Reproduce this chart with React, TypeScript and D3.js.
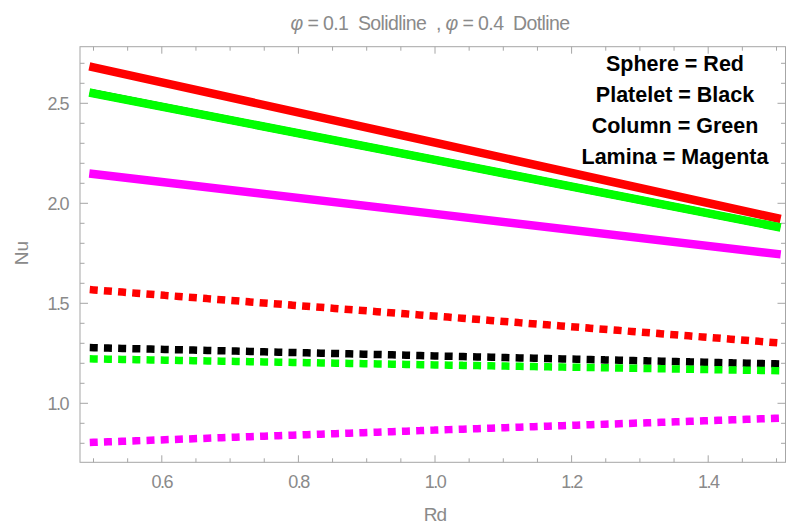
import React from "react";
import * as d3 from "d3";

const rd = [0.5, 1.0, 1.5];
const sphereSolid = [2.68, 2.303, 1.926];
const plateletSolid = [2.55, 2.217, 1.883];
const columnSolid = [2.55, 2.217, 1.883];
const laminaSolid = [2.147, 1.947, 1.747];
const sphereDot = [1.567, 1.436, 1.303];
const plateletDot = [1.278, 1.237, 1.197];
const columnDot = [1.222, 1.192, 1.163];
const laminaDot = [0.805, 0.866, 0.925];

const xMajor = [0.6, 0.8, 1.0, 1.2, 1.4];
const yMajor = [1.0, 1.5, 2.0, 2.5];
const legendLines = ["Sphere = Red", "Platelet = Black", "Column = Green", "Lamina = Magenta"];

const W = 786, H = 525;
const frameL = 80, frameR = 785.5, frameT = 46.7, frameB = 462.3;

export default function App() {
  const x = d3.scaleLinear().domain([0.5, 1.5]).range([93.5, 776.5]);
  const y = d3.scaleLinear().domain([1.0, 2.0]).range([403.3, 203.3]);
  const xDom = [x.invert(frameL), x.invert(frameR)];
  const yDom = [y.invert(frameB), y.invert(frameT)];

  const line = d3.line<[number, number]>().x((d) => x(d[0])).y((d) => y(d[1]));
  const mk = (vals: number[]) => line(rd.map((r, i) => [r, vals[i]] as [number, number])) || "";

  const xMinor = d3.range(Math.ceil(xDom[0] / 0.05), Math.floor(xDom[1] / 0.05) + 1).map((k) => +(k * 0.05).toFixed(3));
  const yMinor = d3.range(Math.ceil(yDom[0] / 0.1), Math.floor(yDom[1] / 0.1) + 1).map((k) => +(k * 0.1).toFixed(3));
  const isMajX = (v: number) => xMajor.some((m) => Math.abs(m - v) < 1e-6);
  const isMajY = (v: number) => yMajor.some((m) => Math.abs(m - v) < 1e-6);

  const frameColor = "#a6a6a6";
  const labelColor = "#8a8a8a";
  const font = "'Liberation Sans', Arial, sans-serif";

  const solid = [
    { v: plateletSolid, c: "#000000", w: 7.5 },
    { v: sphereSolid, c: "#ff0000", w: 8.5 },
    { v: columnSolid, c: "#00ff00", w: 8.5 },
    { v: laminaSolid, c: "#ff00ff", w: 8.5 },
  ];
  const dotted = [
    { v: sphereDot, c: "#ff0000" },
    { v: plateletDot, c: "#000000" },
    { v: columnDot, c: "#00ff00" },
    { v: laminaDot, c: "#ff00ff" },
  ];

  return (
    <svg width={W} height={H} style={{ position: "absolute", left: 0, top: 0, background: "#fff" }}>
      <rect x={0} y={0} width={W} height={H} fill="#fff" />
      {/* title */}
      <text x={430} y={30} textAnchor="middle" fill={labelColor} fontFamily={font} fontSize={19.5} letterSpacing={-0.6} style={{ whiteSpace: "pre" }}>
        <tspan fontStyle="italic">φ</tspan>
        <tspan>{" = 0.1  Solidline  , "}</tspan>
        <tspan fontStyle="italic">φ</tspan>
        <tspan>{" = 0.4  Dotline"}</tspan>
      </text>
      {/* frame */}
      <rect x={frameL} y={frameT} width={frameR - frameL} height={frameB - frameT} fill="none" stroke={frameColor} strokeWidth={1} />
      {/* ticks */}
      {xMinor.map((v) => {
        const len = isMajX(v) ? 7 : 4;
        return (
          <g key={"xt" + v}>
            <line x1={x(v)} x2={x(v)} y1={frameB} y2={frameB - len} stroke={frameColor} />
            <line x1={x(v)} x2={x(v)} y1={frameT} y2={frameT + len} stroke={frameColor} />
          </g>
        );
      })}
      {yMinor.map((v) => {
        const len = isMajY(v) ? 8 : 4.5;
        return (
          <g key={"yt" + v}>
            <line x1={frameL} x2={frameL + len} y1={y(v)} y2={y(v)} stroke={frameColor} />
            <line x1={frameR} x2={frameR - len} y1={y(v)} y2={y(v)} stroke={frameColor} />
          </g>
        );
      })}
      {xMajor.map((v) => (
        <text key={"xl" + v} x={x(v)} y={488} textAnchor="middle" fill={labelColor} fontFamily={font} fontSize={18} letterSpacing={-1.5}>
          {d3.format(".1f")(v)}
        </text>
      ))}
      {yMajor.map((v) => (
        <text key={"yl" + v} x={68} y={y(v) + 6.5} textAnchor="end" fill={labelColor} fontFamily={font} fontSize={18} letterSpacing={-1.5}>
          {d3.format(".1f")(v)}
        </text>
      ))}
      <text x={435} y={521} textAnchor="middle" fill={labelColor} fontFamily={font} fontSize={19} letterSpacing={-1}>Rd</text>
      <text transform={`translate(28,${253}) rotate(-90)`} textAnchor="middle" fill={labelColor} fontFamily={font} fontSize={19}>Nu</text>
      {/* lines */}
      <defs>
        <clipPath id="plotclip">
          <rect x={frameL} y={frameT} width={frameR - frameL} height={frameB - frameT} />
        </clipPath>
      </defs>
      <g clipPath="url(#plotclip)">
        {dotted.map((s, i) => (
          <path key={"d" + i} d={mk(s.v)} fill="none" stroke={s.c} strokeWidth={7.5} strokeLinecap="square" strokeDasharray="0.5,13.7" />
        ))}
        {solid.map((s, i) => (
          <path key={"s" + i} d={mk(s.v)} fill="none" stroke={s.c} strokeWidth={s.w} strokeLinecap="square" />
        ))}
      </g>
      {/* legend */}
      {legendLines.map((t, i) => (
        <text key={t} x={675} y={71 + i * 31} textAnchor="middle" fill="#000" fontFamily={font} fontWeight="bold" fontSize={21.5}>
          {t}
        </text>
      ))}
    </svg>
  );
}
